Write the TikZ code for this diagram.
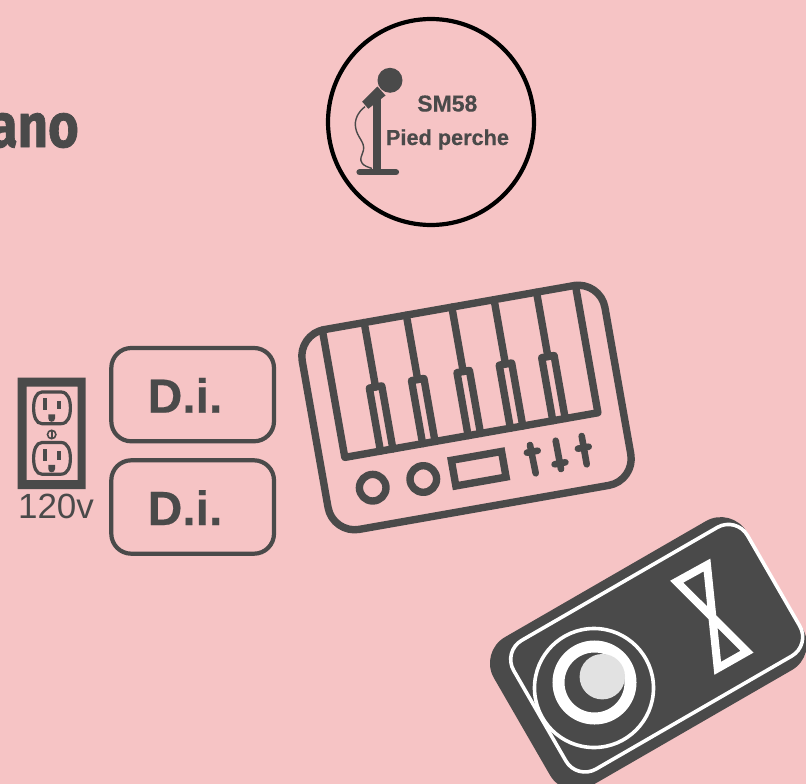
\documentclass[tikz,border=0pt]{standalone}
\usepackage{fontspec}
\setmainfont{Liberation Sans}
\newfontfamily\heavyfont{Liberation Sans}[BoldFeatures={FakeBold=0.35}]
\newfontfamily\brushfont{Fira Sans}[BoldFeatures={FakeBold=1.2}]
\definecolor{bgpink}{HTML}{F6C4C5}
\definecolor{ink}{HTML}{4A4A4A}
\definecolor{knobgrey}{HTML}{E2E2E2}
\tikzset{
  kb/.style={draw=ink,line width=7.4pt,line join=round,line cap=round},
  dibox/.style={draw=ink,line width=4.2pt,rounded corners=20pt},
  ditext/.style={text=ink,font=\fontsize{48}{50}\selectfont\heavyfont\bfseries,anchor=base,inner sep=0pt},
  mictext/.style={text=ink,font=\fontsize{21.7}{24}\selectfont\heavyfont\bfseries,anchor=base,inner sep=0pt},
  socket/.style={draw=ink,line width=3.2pt},
}
\begin{document}
\begin{tikzpicture}[x=1pt,y=-1pt]
\useasboundingbox (0,0) rectangle (806,784);
\clip (0,0) rectangle (806,784);
\fill[bgpink] (0,0) rectangle (806,784);

% partly cropped title
\node[text=ink,font=\fontsize{62}{64}\selectfont\brushfont\bfseries,anchor=base east,inner sep=0pt,xscale=.85] (title) at (79,147) {ano};

% microphone badge
\draw[black,line width=4.2pt] (431,122) circle (103);
\fill[ink] (390,80.3) circle (12.5);
\fill[ink] (377.5,86.5) -- (385.5,95.5) -- (368.3,108.8) -- (362.2,101.7) -- cycle;
\fill[ink] (373.3,97) rectangle (380.7,171);
\draw[ink,line width=6.2pt,line cap=round] (359.5,172.3) -- (396,172.3);
\draw[ink,line width=1.4pt] (365,106.7) .. controls (358,112) and (354,120) .. (355.7,128)
  .. controls (357,137) and (365,142) .. (363.5,150)
  .. controls (362,156) and (359,159) .. (362,163)
  .. controls (364,166) and (368,167) .. (372,168.5);
\node[mictext,font=\fontsize{23}{25}\selectfont\heavyfont\bfseries] (micname) at (447.3,111.5) {SM58};
\node[mictext] (micstand) at (447.5,145) {Pied perche};

% outlet
\fill[ink,even odd rule] (17.7,377.7) rectangle (85.7,489) (26.7,386.7) rectangle (77.7,480);
\foreach \dy in {0,50.5}{
  \begin{scope}[yshift=-\dy pt]
    \draw[socket] (42,392) -- (61,392) .. controls (68,392) and (70.4,400) .. (70.4,408)
      .. controls (70.4,416) and (68,423.7) .. (61,423.7) -- (42,423.7)
      .. controls (36,423.7) and (33.6,416) .. (33.6,408)
      .. controls (33.6,400) and (36,392) .. (42,392) -- cycle;
    \fill[ink] (42.7,398.3) rectangle (47.3,410);
    \fill[ink] (57.4,400.7) rectangle (60.7,409.3);
    \fill[ink] (48.3,414.3) -- (55,414.3) -- (55,418.5) .. controls (55,420.5) and (53.5,421.8) .. (51.6,421.8)
      .. controls (49.8,421.8) and (48.3,420.5) .. (48.3,418.5) -- cycle;
  \end{scope}
}
\draw[ink,line width=1.6pt] (51.7,434.5) circle (4.2);
\draw[ink,line width=1.6pt] (51.7,430.5) -- (51.7,438.5);
\node[text=ink,font=\fontsize{35}{37}\selectfont,anchor=base,inner sep=0pt] (volt) at (56,518.5) {120v};

% D.i. boxes
\draw[dibox] (111.3,348) rectangle (274,441.3);
\node[ditext] (dione) at (185,412.7) {D.i.};
\draw[dibox] (111.3,460.3) rectangle (274,553.7);
\node[ditext] (ditwo) at (185,525) {D.i.};

% keyboard
\begin{scope}[shift={(466.5,407.5)},rotate=10]
  \draw[kb,rounded corners=27pt] (-153.7,-101.4) rectangle (153.7,101.4);
  \draw[kb] (-128.5,-101.4) -- (-128.5,28) -- (128.5,28) -- (128.5,-101.4);
  \foreach \u in {-86,-43.2,3,45.9,89}{
    \draw[kb] (\u,-101.4) -- (\u,-36);
    \draw[kb] (\u-6.3,28) -- (\u-6.3,-36) -- (\u+6.3,-36) -- (\u+6.3,28);
  }
\end{scope}
\draw[kb] (372.7,487.7) circle (13.3);
\draw[kb] (423.3,479) circle (13.3);
\begin{scope}[shift={(478.7,468.7)},rotate=10]
  \draw[kb,line cap=butt,line join=miter] (-25.5,-13) rectangle (25.5,13);
\end{scope}
\draw[kb,line width=6.6pt] (530,445) -- (535.7,473.3) (526.9,452.7) -- (537.7,450.7);
\draw[kb,line width=6.6pt] (555.7,440.7) -- (561,469) (554.6,464.3) -- (565.4,462.3);
\draw[kb,line width=6.6pt] (581.7,436) -- (586.7,464.3) (577.9,448.7) -- (588.7,446.7);

% pedal
\begin{scope}[shift={(648.4,653.6)},rotate=30]
  \fill[ink,rounded corners=30pt] (-146,-86) rectangle (146,86);
\end{scope}
\begin{scope}[shift={(656.7,648.2)},rotate=30]
  \draw[white,line width=3.6pt,rounded corners=22pt] (-135,-74.3) rectangle (135,74.3);
\end{scope}
\draw[white,line width=3.6pt] (594,688) circle (59.5);
\draw[white,line width=12pt] (594.5,682.5) circle (36);
\fill[knobgrey] (602.3,676.7) circle (22.7);
\draw[white,line width=8pt,line join=miter,miter limit=10] (676.7,581.7) -- (707,565) -- (717.7,668.3) -- (747,651.7) -- cycle;
\end{tikzpicture}
\end{document}
